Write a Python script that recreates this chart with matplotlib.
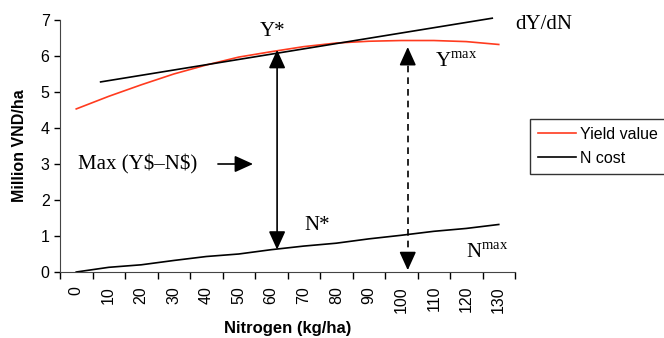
import matplotlib
matplotlib.use('Agg')
import matplotlib.pyplot as plt
import numpy as np

plt.rcParams['font.family'] = ['Liberation Sans', 'DejaVu Sans']
plt.rcParams['mathtext.fontset'] = 'custom'
plt.rcParams['mathtext.rm'] = 'Liberation Serif'

# nitrogen rates (kg/ha) and the two response curves (million VND/ha)
nitrogen = [0, 10, 20, 30, 40, 50, 60, 70, 80, 90, 100, 110, 120, 130]
yield_value = [4.53, 4.88, 5.2, 5.5, 5.75, 5.97, 6.12, 6.26, 6.36, 6.41, 6.43, 6.43, 6.4, 6.32]
n_cost = [0.0, 0.13, 0.2, 0.32, 0.43, 0.5, 0.62, 0.72, 0.8, 0.92, 1.02, 1.13, 1.21, 1.32]

# tangent dY/dN touching the yield curve (category index, value)
tangent_x = [0.75, 12.8]
tangent_y = [5.28, 7.05]

# optimum (Y*, N*) and maximum-yield (Ymax, Nmax) markers
opt_x, opt_top, opt_bottom = 6.18, 6.17, 0.62
max_x, max_top, max_bottom = 10.2, 6.25, 0.05

serif = 'Liberation Serif'
head = 'head_length=0.75,head_width=0.34'

fig = plt.figure(figsize=(6.64, 3.38), dpi=100)
ax = fig.add_axes([60 / 664, 66 / 338, 455 / 664, 252 / 338])

pos = np.arange(len(nitrogen))
ax.plot(pos, yield_value, color='#ff3b1f', lw=1.2, label='Yield value')
ax.plot(pos, n_cost, color='black', lw=1.2, label='N cost')
ax.plot(tangent_x, tangent_y, color='black', lw=1.2, clip_on=False)


def arrow_head(x, y, dx, dy):
    # small solid arrowhead pointing at (x, y)
    ax.annotate('', xy=(x, y), xytext=(x - dx, y - dy),
                arrowprops=dict(arrowstyle='-|>,' + head, color='black', lw=1.2,
                                mutation_scale=15, shrinkA=0, shrinkB=0))


ax.annotate('', xy=(opt_x, opt_bottom), xytext=(opt_x, opt_top),
            arrowprops=dict(arrowstyle='<|-|>,' + head, color='black', lw=1.2,
                            mutation_scale=15, shrinkA=0, shrinkB=0))

# dashed shaft with solid heads
ax.plot([max_x, max_x], [max_bottom + 0.3, max_top - 0.3], color='black',
        lw=1.2, ls=(0, (4, 3)))
arrow_head(max_x, max_top, 0, 0.4)
arrow_head(max_x, max_bottom, 0, -0.4)

ax.annotate('', xy=(5.44, 3.0), xytext=(4.36, 3.0),
            arrowprops=dict(arrowstyle='-|>,' + head, color='black', lw=1.2,
                            mutation_scale=15, shrinkA=0, shrinkB=0))

ax.text(6.05, 6.68, 'Y*', family=serif, fontsize=15, ha='center', va='center')
ax.text(13.5, 6.88, 'dY/dN', family=serif, fontsize=15, ha='left', va='center',
        clip_on=False)
ax.text(11.04, 5.69, r'$\mathrm{Y}^{\mathrm{max}}$', fontsize=15, ha='left',
        va='baseline')
ax.text(0.05, 3.0, 'Max (Y$–N$)'.replace('$', r'\$'), family=serif, fontsize=15,
        ha='left', va='center')
ax.text(7.4, 1.3, 'N*', family=serif, fontsize=15, ha='center', va='center')
ax.text(11.99, 0.39, r'$\mathrm{N}^{\mathrm{max}}$', fontsize=15, ha='left',
        va='baseline')

ax.set_xlim(-0.5, len(nitrogen) - 0.5)
ax.set_ylim(0, 7)
ax.set_yticks(range(0, 8))
ax.tick_params(axis='y', labelsize=11.5, length=4, direction='out', width=1)
# category axis: tick marks between categories, labels centred on them
ax.set_xticks(np.arange(-0.5, len(nitrogen)))
ax.set_xticklabels([])
ax.set_xticks(pos, minor=True)
ax.set_xticklabels([str(n) for n in nitrogen], minor=True, rotation=90)
ax.tick_params(axis='x', which='major', length=5, direction='out', width=1)
ax.tick_params(axis='x', which='minor', length=0, labelsize=11.5, pad=10)

for side in ['top', 'right']:
    ax.spines[side].set_visible(False)
for side in ['left', 'bottom']:
    ax.spines[side].set_color('#444444')

ax.set_xlabel('Nitrogen (kg/ha)', fontsize=12, fontweight='bold', labelpad=6)
ax.set_ylabel('Million VND/ha', fontsize=11.5, fontweight='bold', labelpad=10)

leg = ax.legend(loc='upper left', bbox_to_anchor=(530 / 664, 1 - 119 / 338),
                bbox_transform=fig.transFigure, frameon=True, fancybox=False,
                fontsize=11.5, handlelength=2.4, handletextpad=0.2,
                borderpad=0.5, labelspacing=0.55, borderaxespad=0)
leg.get_frame().set_edgecolor('black')
leg.get_frame().set_linewidth(1.0)

fig.savefig('out.png', dpi=100)
